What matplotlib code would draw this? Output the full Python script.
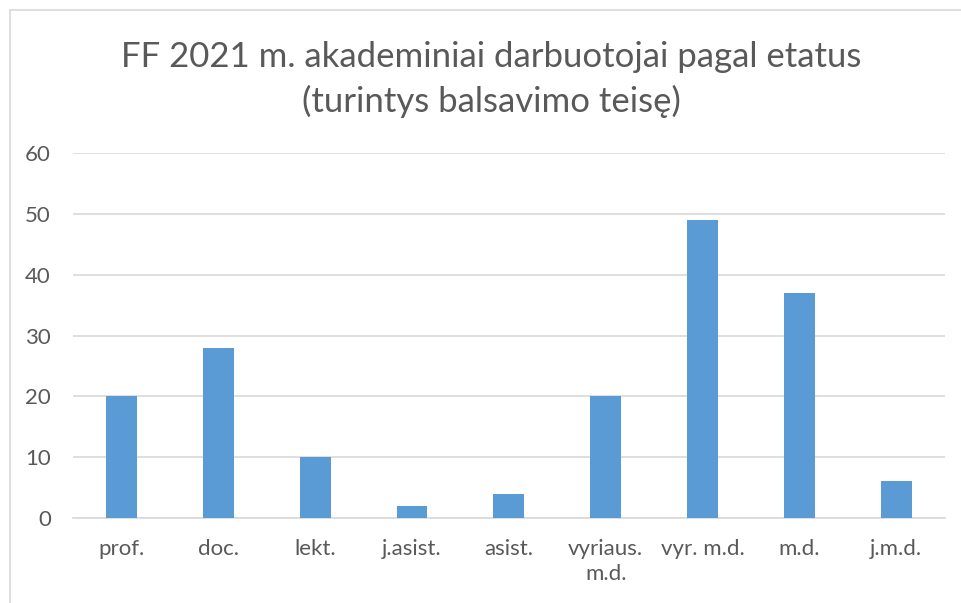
import matplotlib
matplotlib.use('Agg')
import matplotlib.pyplot as plt
from matplotlib.lines import Line2D

plt.rcParams['font.family'] = ['Lato', 'DejaVu Sans']

# data
categories = ['prof.', 'doc.', 'lekt.', 'j.asist.', 'asist.',
              'vyriaus.\nm.d.', 'vyr. m.d.', 'm.d.', 'j.m.d.']
values = [20, 28, 10, 2, 4, 20, 49, 37, 6]
y_ticks = [0, 10, 20, 30, 40, 50, 60]

TEXT = '#595959'
GRID = '#D9D9D9'
BAR = '#5B9BD5'

fig = plt.figure(figsize=(9.61, 6.03), dpi=100)
ax = fig.add_axes([0.076, 0.141, 0.907, 0.605])

x = list(range(len(categories)))
ax.bar(x, values, width=0.32, color=BAR, zorder=3)

ax.set_xlim(-0.5, len(categories) - 0.5)
ax.set_ylim(0, 60)
ax.set_yticks(y_ticks)
ax.set_xticks(x)
ax.set_xticklabels(categories, linespacing=1.35)

ax.grid(axis='y', color=GRID, linewidth=1.2, zorder=0)
for s in ['top', 'right', 'left']:
    ax.spines[s].set_visible(False)
ax.spines['bottom'].set_color(GRID)
ax.spines['bottom'].set_linewidth(1.2)

ax.tick_params(axis='both', length=0, labelsize=16, colors=TEXT)
ax.tick_params(axis='y', pad=16)
ax.tick_params(axis='x', pad=15)

fig.text(0.511, 0.868, 'FF 2021 m. akademiniai darbuotojai pagal etatus\n(turintys balsavimo teisę)',
         ha='center', va='center', fontsize=25, color=TEXT, linespacing=1.42)

# chart frame (only top and left edges visible in the crop)
fig.add_artist(Line2D([9.5 / 961, 9.5 / 961], [0, 1 - 9.5 / 603], transform=fig.transFigure,
                      color=GRID, linewidth=1.2))
fig.add_artist(Line2D([9.5 / 961, 1], [1 - 9.5 / 603, 1 - 9.5 / 603], transform=fig.transFigure,
                      color=GRID, linewidth=1.2))

plt.savefig('out.png', dpi=100)
plt.close()
